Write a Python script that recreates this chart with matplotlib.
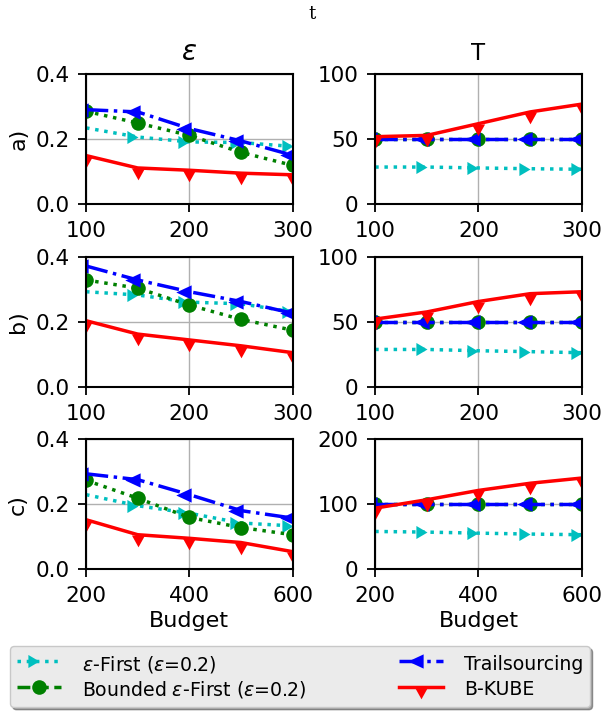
import matplotlib.pyplot as plt
from matplotlib.lines import Line2D
from matplotlib.path import Path

# budgets per row
budget_ab = [100, 150, 200, 250, 300]
budget_c = [200, 300, 400, 500, 600]

# epsilon (left column)
eps_first_eps = [[0.235, 0.207, 0.192, 0.19, 0.178],
                 [0.292, 0.282, 0.26, 0.255, 0.23],
                 [0.229, 0.195, 0.172, 0.142, 0.133]]
bounded_eps = [[0.286, 0.25, 0.212, 0.16, 0.12],
               [0.328, 0.303, 0.251, 0.207, 0.174],
               [0.273, 0.218, 0.159, 0.128, 0.106]]
trail_eps = [[0.291, 0.284, 0.233, 0.195, 0.151],
             [0.371, 0.328, 0.292, 0.262, 0.226],
             [0.293, 0.275, 0.229, 0.18, 0.157]]
bkube_eps = [[0.15, 0.112, 0.105, 0.096, 0.091],
             [0.203, 0.162, 0.144, 0.126, 0.105],
             [0.152, 0.106, 0.095, 0.082, 0.054]]

# T (right column)
eps_first_T = [[28.7, 28.7, 28, 27.4, 27],
               [28.7, 28.7, 27.7, 27, 26.2],
               [58, 57, 55.4, 54, 53]]
bounded_T = [[50, 50, 50, 50, 50],
             [50, 50, 50, 50, 50],
             [100, 100, 100, 100, 100]]
trail_T = [[50, 50, 50, 50, 50],
           [50, 50, 50, 50, 50],
           [100, 100, 100, 100, 100]]
bkube_T = [[52, 53, 62, 71, 77],
           [52, 57.5, 65.5, 71.5, 73],
           [93.8, 106.7, 121, 132, 140]]

row_labels = ['a)', 'b)', 'c)']
T_ylim = [100, 100, 200]

LW = 2.5

# triangles sit off-centre in the original picture
right_tri = Path([(0, 0), (-1.7, 1), (-1.7, -1), (0, 0)],
                 [Path.MOVETO, Path.LINETO, Path.LINETO, Path.CLOSEPOLY])
left_tri = Path([(-1.85, 0), (0.3, 1), (0.3, -1), (-1.85, 0)],
                [Path.MOVETO, Path.LINETO, Path.LINETO, Path.CLOSEPOLY])
down_tri = Path([(-1, 0), (1, 0), (0, -1.8), (-1, 0)],
                [Path.MOVETO, Path.LINETO, Path.LINETO, Path.CLOSEPOLY])

styles = [
    dict(color='c', linestyle=':', marker=right_tri, ms=16, mew=0),
    dict(color='g', linestyle=':', marker='o', ms=10.5, mew=0),
    dict(color='b', linestyle='-.', marker=left_tri, ms=19, mew=0),
    dict(color='r', linestyle='-', marker=down_tri, ms=17, mew=0),
]


def draw(ax, x, series):
    for ys, st in zip(series, styles):
        ax.plot(x, ys, lw=LW, **st)
    ax.grid(True, color='#b0b0b0', lw=1)
    ax.set_axisbelow(True)
    ax.tick_params(labelsize=15.5, length=6, width=1.3, pad=6)
    for s in ax.spines.values():
        s.set_linewidth(1.5)


fig, axes = plt.subplots(3, 2, figsize=(6.06, 7.27), dpi=100)
fig.subplots_adjust(left=0.142, right=0.960, top=0.898, bottom=0.217,
                    wspace=0.40, hspace=0.40)

for i in range(3):
    x = budget_c if i == 2 else budget_ab
    axl, axr = axes[i]
    draw(axl, x, [eps_first_eps[i], bounded_eps[i], trail_eps[i], bkube_eps[i]])
    draw(axr, x, [eps_first_T[i], bounded_T[i], trail_T[i], bkube_T[i]])
    for ax in (axl, axr):
        ax.set_xlim(x[0], x[-1])
        ax.set_xticks([x[0], x[2], x[4]])
    axl.set_ylim(0, 0.4)
    axl.set_yticks([0.0, 0.2, 0.4])
    axl.set_ylabel(row_labels[i], fontsize=16, labelpad=5)
    axr.set_ylim(0, T_ylim[i])
    axr.set_yticks([0, T_ylim[i] / 2, T_ylim[i]])
    axr.set_yticklabels([str(int(v)) for v in (0, T_ylim[i] / 2, T_ylim[i])])

axes[0][0].set_title(r'$\varepsilon$', fontsize=20, pad=10)
axes[0][1].set_title('T', fontsize=16.5, pad=10)
axes[2][0].set_xlabel('Budget', fontsize=16)
axes[2][1].set_xlabel('Budget', fontsize=16)

fig.text(312 / 606, 1 - 14 / 727, 't', family='DejaVu Serif', fontsize=13,
         ha='center', va='center')

handles = [Line2D([], [], lw=LW, **st) for st in styles]
handles[1].set_linestyle('--')
labels = [r'$\varepsilon$-First ($\varepsilon$=0.2)',
          r'Bounded $\varepsilon$-First ($\varepsilon$=0.2)',
          'Trailsourcing', 'B-KUBE']
leg = fig.legend(handles, labels, loc='upper left', ncol=2,
                 bbox_to_anchor=(10 / 606, 1 - 646 / 727),
                 bbox_transform=fig.transFigure, borderaxespad=0,
                 fontsize=13.6, shadow=True, fancybox=True, framealpha=1,
                 facecolor='#ebebeb', edgecolor='#c8c8c8',
                 borderpad=0.35, handleheight=1.45, labelspacing=0.15,
                 handlelength=2.35, handletextpad=1.1, columnspacing=4.9)

fig.savefig('out.png', dpi=100)
